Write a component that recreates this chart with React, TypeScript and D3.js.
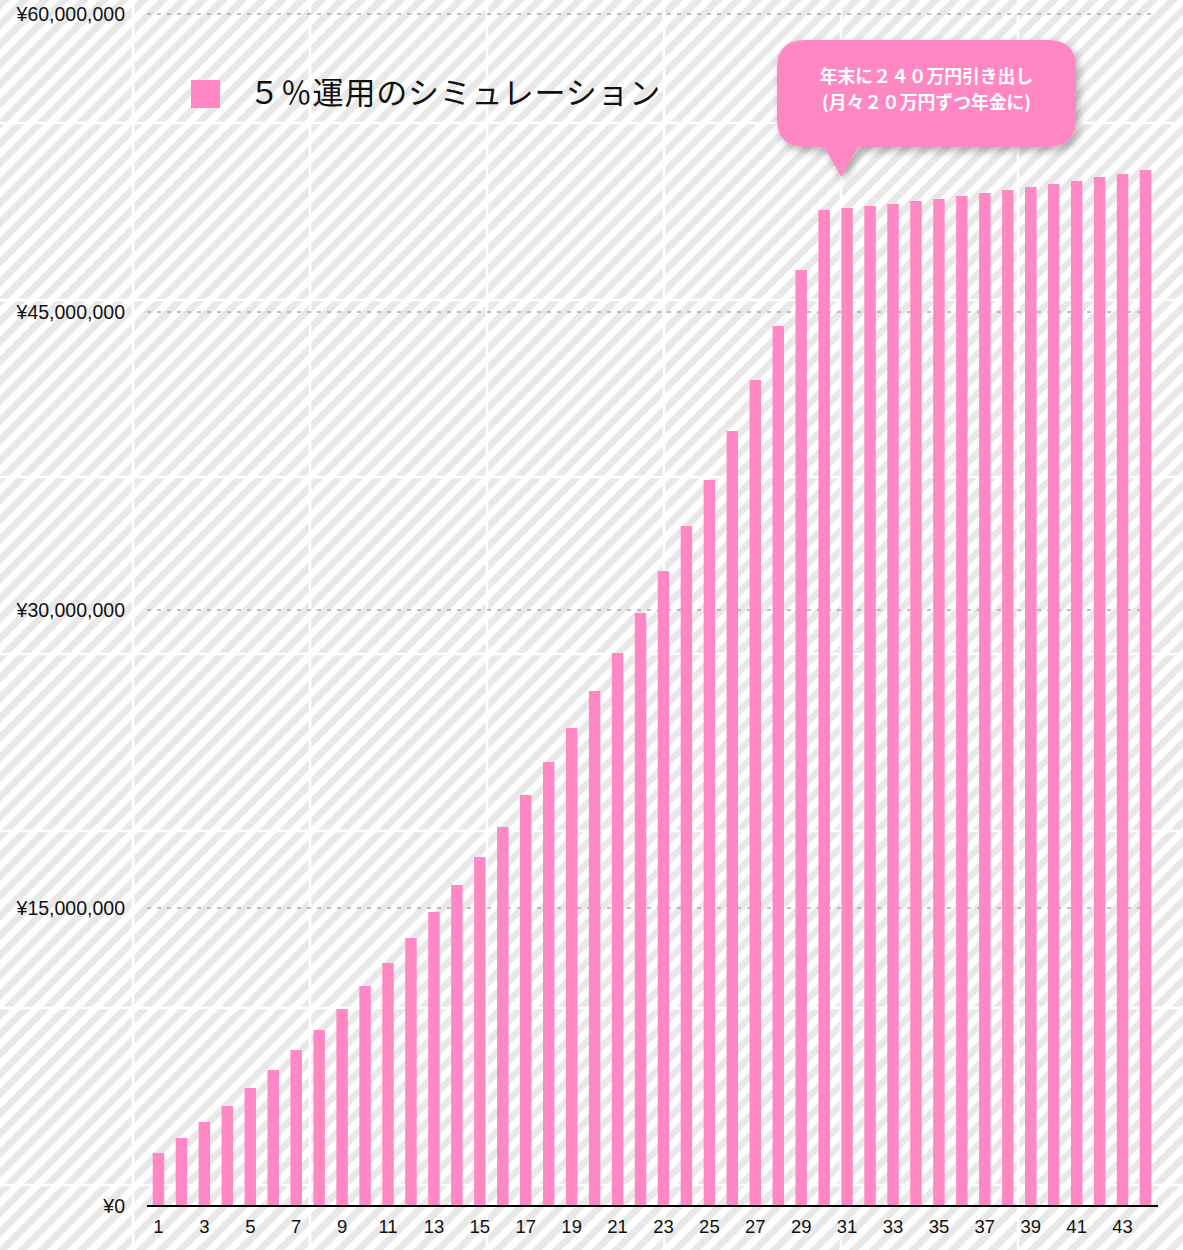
import React from "react";
import * as d3 from "d3";

const categories = [
  "1", "2", "3", "4", "5", "6", "7", "8", "9", "10", "11", "12", "13", "14", "15",
  "16", "17", "18", "19", "20", "21", "22", "23", "24", "25", "26", "27", "28", "29", "30",
  "31", "32", "33", "34", "35", "36", "37", "38", "39", "40", "41", "42", "43", "44",
];

const values = [
  2668000, 3423000, 4228000, 5034000, 5940000, 6846000, 7852000, 8859000, 9916000, 11074000,
  12232000, 13490000, 14799000, 16158000, 17567000, 19077000, 20688000, 22349000, 24061000, 25923000,
  27836000, 29849000, 31963000, 34228000, 36544000, 39010000, 41578000, 44296000, 47115000, 50135000,
  50235000, 50336000, 50437000, 50588000, 50688000, 50839000, 50990000, 51141000, 51292000, 51443000,
  51594000, 51796000, 51947000, 52148000,
];

const yTicks = [0, 15000000, 30000000, 45000000, 60000000];
const yTickLabels = ["¥0", "¥15,000,000", "¥30,000,000", "¥45,000,000", "¥60,000,000"];
const xTickLabels = categories.filter((_, i) => i % 2 === 0);

const legendLabel = "５％運用のシミュレーション";
const calloutLines = ["年末に２４０万円引き出し", "(月々２０万円ずつ年金に)"];
const calloutIndex = 30; // points near category 31

const W = 1183;
const H = 1250;
const PINK = "#ff88c4";
const LATIN = "'Liberation Sans', Arial, Helvetica, sans-serif";
const CJK = "'Noto Sans CJK JP', 'Noto Sans', sans-serif";

export default function App() {
  const left = 147;
  const right = 1157;
  const top = 14;
  const bottom = 1206;

  const x = d3.scaleBand<string>().domain(categories).range([left, right]).paddingInner(0.5).paddingOuter(0.25);
  const y = d3.scaleLinear().domain([0, 60000000]).range([bottom, top]);

  const tile = 177;
  const seamX = d3.range(-44, W + tile, tile);
  const seamY = d3.range(123 - tile, H + tile, tile);

  const cx = (x(categories[calloutIndex]) as number) + x.bandwidth() / 2 - 6;
  const bx0 = 777, bx1 = 1076, by0 = 40, by1 = 147;
  const bubblePath =
    `M${bx0 + 28},${by0} H${bx1 - 28} Q${bx1},${by0} ${bx1},${by0 + 28} V${by1 - 28} Q${bx1},${by1} ${bx1 - 28},${by1} ` +
    `H${cx + 17} L${cx},${177} L${cx - 17},${by1} H${bx0 + 28} Q${bx0},${by1} ${bx0},${by1 - 28} V${by0 + 28} Q${bx0},${by0} ${bx0 + 28},${by0} Z`;

  return (
    <div style={{ position: "absolute", left: 0, top: 0 }}>
      <svg width={W} height={H} style={{ display: "block" }}>
        <defs>
          <pattern id="stripes" patternUnits="userSpaceOnUse" width={14} height={14} patternTransform="rotate(45)">
            <rect x={0} y={0} width={14} height={14} fill="#ffffff" />
            <rect x={0} y={0} width={7} height={14} fill="#e8e8e8" />
          </pattern>
          <filter id="shadow" x="-20%" y="-20%" width="140%" height="160%">
            <feDropShadow dx={3} dy={4} stdDeviation={4} floodColor="#000" floodOpacity={0.3} />
          </filter>
        </defs>
        <rect x={0} y={0} width={W} height={H} fill="url(#stripes)" />
        {seamX.map((sx, i) => (
          <line key={"sx" + i} x1={sx} x2={sx} y1={0} y2={H} stroke="#ffffff" strokeWidth={2.5} />
        ))}
        {seamY.map((sy, i) => (
          <line key={"sy" + i} x1={0} x2={W} y1={sy} y2={sy} stroke="#ffffff" strokeWidth={2.5} />
        ))}

        {yTicks.slice(1).map((t, i) => (
          <line key={"g" + i} x1={left} x2={right} y1={y(t)} y2={y(t)} stroke="#aaaaaa" strokeWidth={1.5} strokeDasharray="4 6" />
        ))}

        {values.map((v, i) => (
          <rect key={"b" + i} x={x(categories[i])} y={y(v)} width={x.bandwidth()} height={bottom - y(v)} fill={PINK} />
        ))}

        <line x1={left} x2={right + 1} y1={bottom} y2={bottom} stroke="#000" strokeWidth={2} />

        {yTicks.map((t, i) => (
          <text key={"yl" + i} x={125} y={y(t)} dy="0.35em" textAnchor="end" fontFamily={LATIN} fontSize={19.5} fill="#111">
            {yTickLabels[i]}
          </text>
        ))}

        {xTickLabels.map((c) => (
          <text key={"xl" + c} x={(x(c) as number) + x.bandwidth() / 2} y={1227} dy="0.35em" textAnchor="middle" fontFamily={LATIN} fontSize={18.5} fill="#111">
            {c}
          </text>
        ))}

        <rect x={191} y={80} width={29} height={28} fill={PINK} />
        <text x={249} y={93} dy="0.35em" fontFamily={CJK} fontSize={31} fill="#111" letterSpacing={0.8}>
          {legendLabel}
        </text>

        <path d={bubblePath} fill={PINK} filter="url(#shadow)" />
        {calloutLines.map((l, i) => (
          <text key={"cl" + i} x={(bx0 + bx1) / 2} y={77 + i * 26} dy="0.35em" textAnchor="middle" fontFamily={CJK} fontWeight="bold" fontSize={17.8} fill="#ffffff">
            {l}
          </text>
        ))}
      </svg>
    </div>
  );
}
